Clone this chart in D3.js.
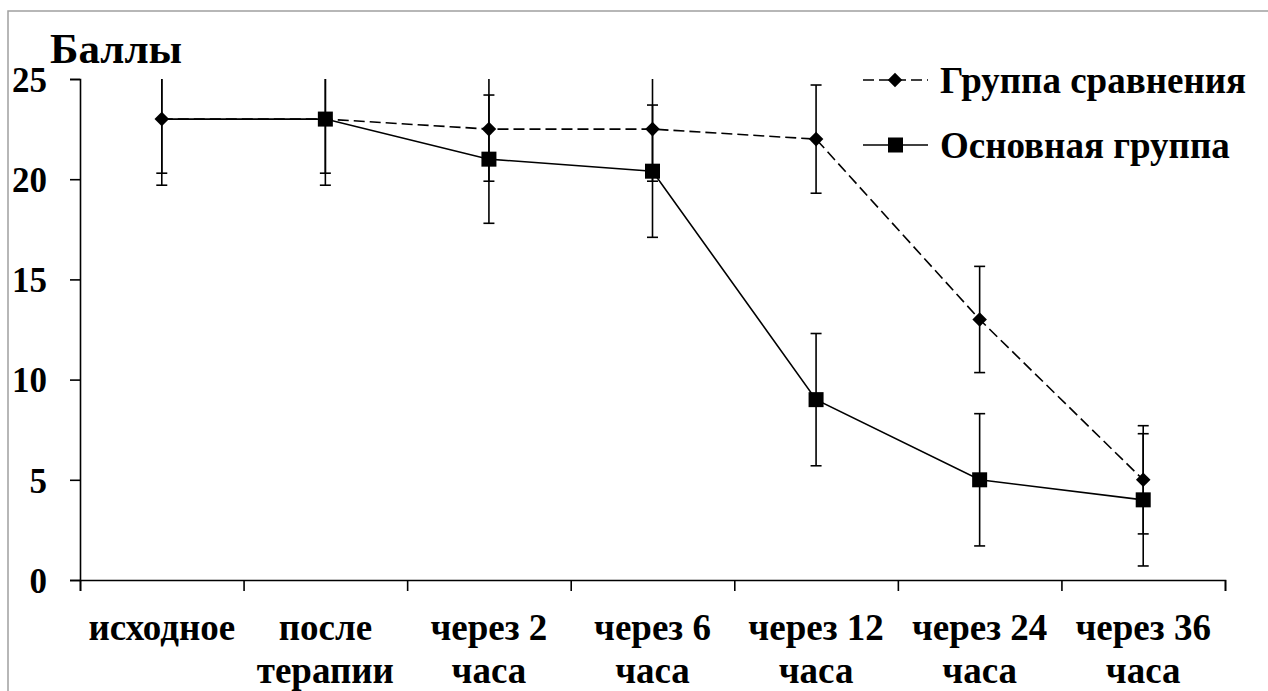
<!DOCTYPE html>
<meta charset="utf-8">
<style>
body { margin: 0; background: #fff; }
svg { font-family: "Times New Roman", "Liberation Serif", serif; font-weight: bold; }
.axis path, .axis line { stroke: #000; stroke-width: 1.6px; }
.axis text { font-size: 35px; fill: #000; font-family: "Times New Roman", "Liberation Serif", serif; font-weight: bold; }
.line { fill: none; stroke: #000; stroke-width: 1.6px; }
.err { stroke: #000; stroke-width: 1.6px; }
</style>
<svg width="1268" height="691"></svg>
<script src="https://d3js.org/d3.v7.min.js"></script>
<script>

// time points (two-line labels)
var categories = [
  ["исходное", ""],
  ["после", "терапии"],
  ["через 2", "часа"],
  ["через 6", "часа"],
  ["через 12", "часа"],
  ["через 24", "часа"],
  ["через 36", "часа"]
];

var yTicks = [0, 5, 10, 15, 20, 25];

// Группа сравнения
var compareValues = [23, 23, 22.5, 22.5, 22, 13, 5];
var compareErr    = [2.7, 2.7, 2.6, 2.6, 2.7, 2.65, 2.7];

// Основная группа
var mainValues = [23, 23, 21, 20.4, 9, 5, 4];
var mainErr    = [3.3, 3.3, 3.2, 3.3, 3.3, 3.3, 3.3];

var seriesNames = ["Группа сравнения", "Основная группа"];

var svg = d3.select("svg");

// gray frame round the chart area
svg.append("rect")
    .attr("x", 8).attr("y", 11)
    .attr("width", 1300).attr("height", 720)
    .attr("fill", "none")
    .attr("stroke", "#a0a0a0")
    .attr("stroke-width", 1.5);

var plotLeft = 80, plotRight = 1225, plotTop = 79, plotBottom = 580;

var x = d3.scaleBand()
    .domain(d3.range(categories.length))
    .range([plotLeft, plotRight])
    .padding(0);

var xb = d3.scaleLinear()
    .domain([0, categories.length])
    .range([plotLeft, plotRight]);

var y = d3.scaleLinear()
    .domain([0, 25])
    .range([plotBottom, plotTop])
    .clamp(true);

function cx(i) { return x(i) + x.bandwidth() / 2; }

// axes
svg.append("g")
    .attr("class", "axis")
    .attr("transform", "translate(0," + plotBottom + ")")
    .call(d3.axisBottom(xb)
      .tickValues(d3.range(categories.length + 1))
      .tickFormat("")
      .tickSizeOuter(0)
      .tickSize(11));

var yAxis = svg.append("g")
    .attr("class", "axis")
    .attr("transform", "translate(" + plotLeft + ",0)")
    .call(d3.axisLeft(y)
      .tickValues(yTicks)
      .tickSizeOuter(0)
      .tickSize(10)
      .tickPadding(23));
yAxis.selectAll("text").attr("dy", "0.35em");

// category labels
var lab = svg.append("g")
    .selectAll("text")
    .data(categories)
    .join("text")
    .attr("text-anchor", "middle")
    .attr("font-size", 37);
lab.append("tspan").attr("x", function(d, i) { return cx(i); }).attr("y", 640).text(function(d) { return d[0]; });
lab.append("tspan").attr("x", function(d, i) { return cx(i); }).attr("y", 683).text(function(d) { return d[1]; });

// y title
svg.append("text")
    .attr("x", 50)
    .attr("y", 63)
    .attr("font-size", 43)
    .text("Баллы");

function pts(vals, errs) {
  return vals.map(function(v, i) { return {i: i, v: v, e: errs[i]}; });
}
var compare = pts(compareValues, compareErr);
var main = pts(mainValues, mainErr);

var line = d3.line()
    .x(function(d) { return cx(d.i); })
    .y(function(d) { return y(d.v); });

function errorBars(data) {
  var g = svg.append("g");
  g.selectAll(".v").data(data).join("line")
      .attr("class", "err")
      .attr("x1", function(d) { return cx(d.i); })
      .attr("x2", function(d) { return cx(d.i); })
      .attr("y1", function(d) { return y(d.v + d.e); })
      .attr("y2", function(d) { return y(d.v - d.e); });
  // caps (top one hidden when clipped by the axis max)
  g.selectAll(".ct").data(data.filter(function(d) { return d.v + d.e <= 25; })).join("line")
      .attr("class", "err")
      .attr("x1", function(d) { return cx(d.i) - 5.5; })
      .attr("x2", function(d) { return cx(d.i) + 5.5; })
      .attr("y1", function(d) { return y(d.v + d.e); })
      .attr("y2", function(d) { return y(d.v + d.e); });
  g.selectAll(".cb").data(data).join("line")
      .attr("class", "err")
      .attr("x1", function(d) { return cx(d.i) - 5.5; })
      .attr("x2", function(d) { return cx(d.i) + 5.5; })
      .attr("y1", function(d) { return y(d.v - d.e); })
      .attr("y2", function(d) { return y(d.v - d.e); });
}

errorBars(compare);
errorBars(main);

svg.append("path").datum(main).attr("class", "line").attr("d", line);
svg.append("path").datum(compare).attr("class", "line")
    .attr("stroke-dasharray", "11,5").attr("d", line);

var diamond = d3.symbol().type(d3.symbolDiamond2).size(135);

// square markers: the first point has no marker in the original
svg.append("g").selectAll("rect")
    .data(main.filter(function(d) { return d.i > 0; }))
    .join("rect")
    .attr("x", function(d) { return cx(d.i) - 7.5; })
    .attr("y", function(d) { return y(d.v) - 7.5; })
    .attr("width", 15).attr("height", 15)
    .attr("fill", "#000");

svg.append("g").selectAll("path")
    .data(compare.filter(function(d) { return d.i !== 1; }))
    .join("path")
    .attr("transform", function(d) { return "translate(" + cx(d.i) + "," + y(d.v) + ")"; })
    .attr("d", diamond)
    .attr("fill", "#000");

// legend
var legend = svg.append("g")
    .selectAll("g")
    .data(seriesNames)
    .join("g")
    .attr("transform", function(d, i) { return "translate(863," + (80 + i * 65) + ")"; });

legend.append("line")
    .attr("x1", 0).attr("x2", 65)
    .attr("stroke", "#000").attr("stroke-width", 1.6)
    .attr("stroke-dasharray", function(d, i) { return i === 0 ? "11,5" : null; });

legend.filter(function(d, i) { return i === 0; })
    .append("path").attr("transform", "translate(32,0)").attr("d", diamond).attr("fill", "#000");
legend.filter(function(d, i) { return i === 1; })
    .append("rect").attr("x", 25).attr("y", -7.5).attr("width", 15).attr("height", 15).attr("fill", "#000");

legend.append("text")
    .attr("x", 77)
    .attr("dy", "0.35em")
    .attr("font-size", 37)
    .text(function(d) { return d; });

</script>
